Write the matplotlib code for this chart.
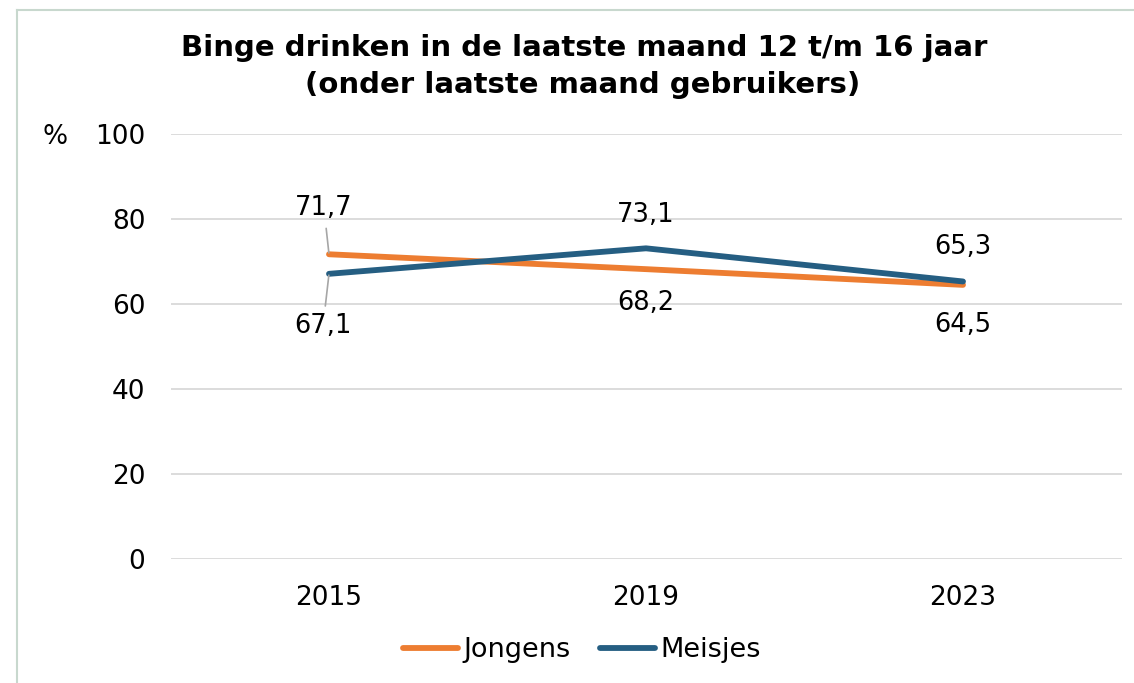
import matplotlib
matplotlib.use("Agg")
import matplotlib.pyplot as plt
from matplotlib.lines import Line2D

years = ["2015", "2019", "2023"]
jongens = [71.7, 68.2, 64.5]
meisjes = [67.1, 73.1, 65.3]
yticks = [0, 20, 40, 60, 80, 100]

C_J = "#ED7D31"
C_M = "#255E82"

plt.rcParams['font.family'] = ['DejaVu Sans']

W, H = 1134, 683
fig = plt.figure(figsize=(W / 100, H / 100), dpi=100)
ax = fig.add_axes([170.5 / W, 1 - 559 / H, 951 / W, 425 / H])

x = list(range(len(years)))
ax.plot(x, jongens, color=C_J, lw=4.2, solid_capstyle='round', label="Jongens", zorder=3)
ax.plot(x, meisjes, color=C_M, lw=4.2, solid_capstyle='round', label="Meisjes", zorder=4)

ax.set_xlim(-0.5, 2.5)
ax.set_ylim(0, 100)
ax.set_yticks(yticks)
ax.set_xticks(x)
ax.set_xticklabels(years)
ax.tick_params(axis='both', length=0, labelsize=19, colors='black')
ax.tick_params(axis='y', pad=18)
ax.tick_params(axis='x', pad=19)
ax.grid(axis='y', color='#D9D9D9', lw=1.3)
ax.set_axisbelow(True)
for s in ax.spines.values():
    s.set_visible(False)

fmt = lambda v: f"{v:.1f}".replace('.', ',')

# labels: (series, index, offset in points)
lab = [
    (jongens, 0, (-3.6, 33), True),
    (meisjes, 0, (-4.3, -37.5), True),
    (meisjes, 1, (0, 24), False),
    (jongens, 1, (0, -24.5), False),
    (meisjes, 2, (0, 24.5), False),
    (jongens, 2, (0, -29), False),
]
for ser, i, off, leader in lab:
    kw = {}
    if leader:
        kw['arrowprops'] = dict(arrowstyle='-', color='#A6A6A6', lw=1.2,
                                shrinkA=3, shrinkB=1)
    ax.annotate(fmt(ser[i]), (x[i], ser[i]), xytext=off, textcoords='offset points',
                ha='center', va='center', fontsize=18.5, color='black', zorder=5, **kw)

fig.text(584 / W, 1 - 48 / H, "Binge drinken in de laatste maand 12 t/m 16 jaar",
         ha='center', va='center', fontsize=21, fontweight='bold')
fig.text(583 / W, 1 - 85 / H, "(onder laatste maand gebruikers)",
         ha='center', va='center', fontsize=21, fontweight='bold')
fig.text(55.5 / W, 1 - 137 / H, "%", ha='center', va='center', fontsize=19)

leg = ax.legend(loc='center', bbox_to_anchor=(582 / W, 1 - 650 / H),
                bbox_transform=fig.transFigure, ncol=2, frameon=False,
                fontsize=19.5, handlelength=2.05, handletextpad=0.2, columnspacing=1.07)
for h in leg.legend_handles:
    h.set_linewidth(4.2)

bc = '#C8D8CE'
fig.add_artist(Line2D([16.5 / W, 16.5 / W], [0, 1 - 9.5 / H], color=bc, lw=1.5,
                      transform=fig.transFigure))
fig.add_artist(Line2D([16.5 / W, 1], [1 - 9.5 / H, 1 - 9.5 / H], color=bc, lw=1.5,
                      transform=fig.transFigure))

fig.savefig("out.png", dpi=100)
